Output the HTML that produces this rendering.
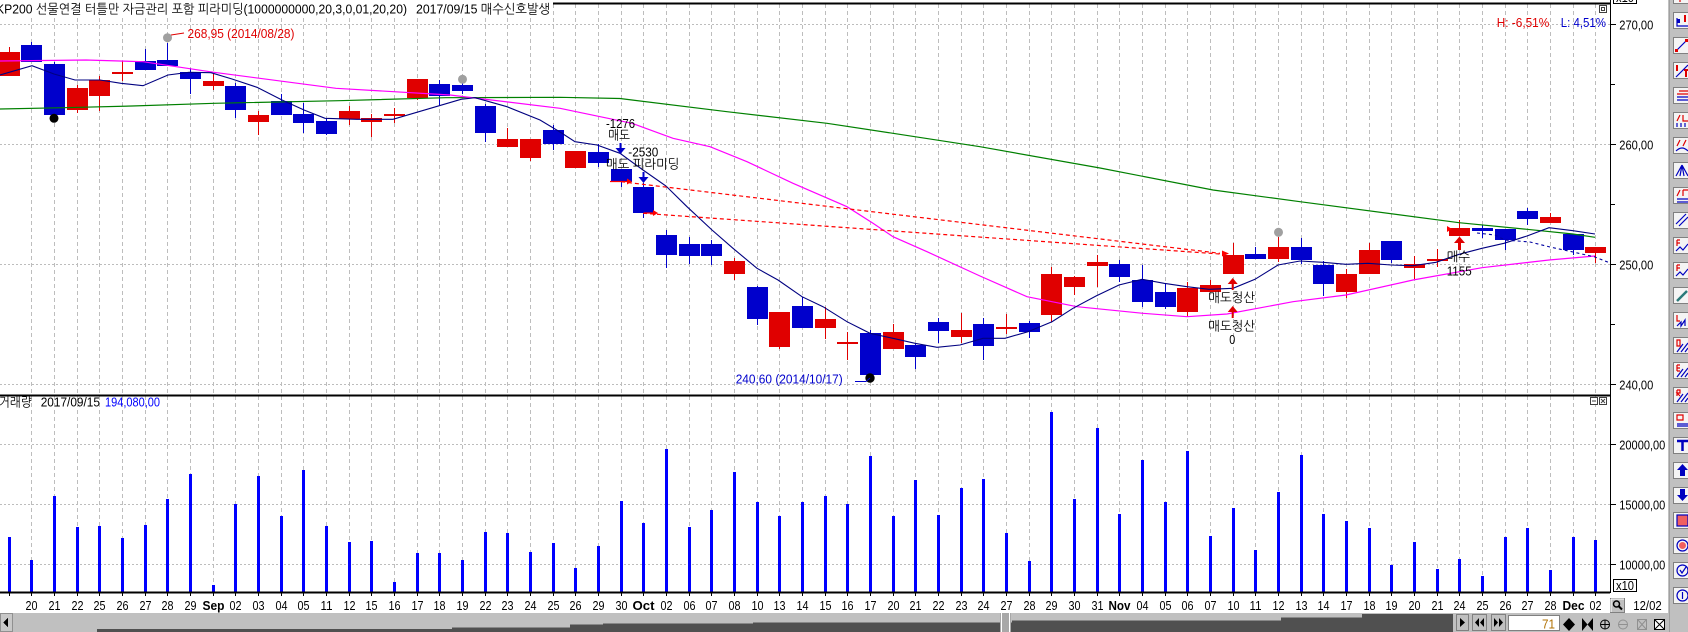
<!DOCTYPE html>
<html><head><meta charset="utf-8"><style>
html,body{margin:0;padding:0;background:#fff;width:1688px;height:632px;overflow:hidden}
svg{display:block}
text{font-family:"Liberation Sans","NanumGothic","Noto Sans CJK KR",sans-serif;font-size:13px}
.d{font-size:13px}
.m{font-size:13px;font-weight:bold}
</style></head><body>
<svg width="1688" height="632" viewBox="0 0 1688 632" xmlns="http://www.w3.org/2000/svg">
<rect x="0" y="0" width="1688" height="632" fill="#fff"/>
<!-- grid -->
<g shape-rendering="crispEdges" fill="none">
<path stroke="#bdbdbd" stroke-dasharray="4 3" d="M31.5 4V592 M54.5 4V592 M77.5 4V592 M99.5 4V592 M122.5 4V592 M145.5 4V592 M167.5 4V592 M190.5 4V592 M213.5 4V592 M235.5 4V592 M258.5 4V592 M281.5 4V592 M303.5 4V592 M326.5 4V592 M349.5 4V592 M371.5 4V592 M394.5 4V592 M417.5 4V592 M439.5 4V592 M462.5 4V592 M485.5 4V592 M507.5 4V592 M530.5 4V592 M553.5 4V592 M575.5 4V592 M598.5 4V592 M621.5 4V592 M643.5 4V592 M666.5 4V592 M689.5 4V592 M711.5 4V592 M734.5 4V592 M757.5 4V592 M779.5 4V592 M802.5 4V592 M825.5 4V592 M847.5 4V592 M870.5 4V592 M893.5 4V592 M915.5 4V592 M938.5 4V592 M961.5 4V592 M983.5 4V592 M1006.5 4V592 M1029.5 4V592 M1051.5 4V592 M1074.5 4V592 M1097.5 4V592 M1119.5 4V592 M1142.5 4V592 M1165.5 4V592 M1187.5 4V592 M1210.5 4V592 M1233.5 4V592 M1255.5 4V592 M1278.5 4V592 M1301.5 4V592 M1323.5 4V592 M1346.5 4V592 M1369.5 4V592 M1391.5 4V592 M1414.5 4V592 M1437.5 4V592 M1459.5 4V592 M1482.5 4V592 M1505.5 4V592 M1527.5 4V592 M1550.5 4V592 M1573.5 4V592 M1595.5 4V592"/>
<path stroke="#bdbdbd" stroke-dasharray="2 2" d="M0 24.5H1610 M0 144.5H1610 M0 264.5H1610 M0 384.5H1610 M0 444.5H1610 M0 504.5H1610 M0 564.5H1610"/>
</g>
<!-- title bg -->
<rect x="0" y="0" width="553" height="17" fill="#fff"/>
<!-- volume bars -->
<path fill="none" stroke="#0000ff" stroke-width="3" shape-rendering="crispEdges" d="M9.5 537V592 M31.5 560V592 M54.5 496V592 M77.5 527V592 M99.5 526V592 M122.5 538V592 M145.5 525V592 M167.5 499V592 M190.5 474V592 M213.5 585V592 M235.5 504V592 M258.5 476V592 M281.5 516V592 M303.5 470V592 M326.5 526V592 M349.5 542V592 M371.5 541V592 M394.5 582V592 M417.5 553V592 M439.5 553V592 M462.5 560V592 M485.5 532V592 M507.5 533V592 M530.5 552V592 M553.5 543V592 M575.5 568V592 M598.5 546V592 M621.5 501V592 M643.5 523V592 M666.5 449V592 M689.5 527V592 M711.5 510V592 M734.5 472V592 M757.5 502V592 M779.5 516V592 M802.5 502V592 M825.5 496V592 M847.5 504V592 M870.5 456V592 M893.5 516V592 M915.5 480V592 M938.5 515V592 M961.5 488V592 M983.5 479V592 M1006.5 533V592 M1029.5 561V592 M1051.5 412V592 M1074.5 499V592 M1097.5 428V592 M1119.5 514V592 M1142.5 460V592 M1165.5 502V592 M1187.5 451V592 M1210.5 536V592 M1233.5 508V592 M1255.5 550V592 M1278.5 492V592 M1301.5 455V592 M1323.5 514V592 M1346.5 521V592 M1369.5 528V592 M1391.5 565V592 M1414.5 542V592 M1437.5 569V592 M1459.5 559V592 M1482.5 576V592 M1505.5 537V592 M1527.5 528V592 M1550.5 570V592 M1573.5 537V592 M1595.5 540V592"/>
<!-- candles -->
<g shape-rendering="crispEdges">
<path fill="none" stroke="#e00000" d="M9.5 47V76 M77.5 85V113 M99.5 76V111 M122.5 61V81 M213.5 74V90 M258.5 111V135 M349.5 106V125 M371.5 114V137 M394.5 108V123 M417.5 79V100 M507.5 128V147 M530.5 139V161 M575.5 151V168 M734.5 258V280 M779.5 312V349 M825.5 307V339 M847.5 332V360 M893.5 324V349 M961.5 313V343 M1006.5 314V334 M1051.5 267V322 M1074.5 276V295 M1097.5 255V287 M1187.5 282V317 M1210.5 280V292 M1233.5 243V274 M1278.5 237V262 M1346.5 269V298 M1369.5 243V274 M1414.5 256V279 M1437.5 249V267 M1459.5 220V236 M1550.5 213V223 M1595.5 247V263"/>
<g fill="#e00000">
<rect x="-1" y="52" width="21" height="24"/><rect x="67" y="88" width="21" height="22"/><rect x="89" y="80" width="21" height="16"/><rect x="112" y="72" width="21" height="2"/><rect x="203" y="81" width="21" height="5"/><rect x="248" y="115" width="21" height="7"/><rect x="339" y="111" width="21" height="8"/><rect x="361" y="118" width="21" height="4"/><rect x="384" y="114" width="21" height="2"/><rect x="407" y="79" width="21" height="19"/><rect x="497" y="139" width="21" height="8"/><rect x="520" y="139" width="21" height="19"/><rect x="565" y="151" width="21" height="17"/><rect x="724" y="261" width="21" height="13"/><rect x="769" y="312" width="21" height="35"/><rect x="815" y="319" width="21" height="9"/><rect x="837" y="342" width="21" height="2"/><rect x="883" y="332" width="21" height="17"/><rect x="951" y="330" width="21" height="7"/><rect x="996" y="327" width="21" height="2"/><rect x="1041" y="274" width="21" height="41"/><rect x="1064" y="277" width="21" height="10"/><rect x="1087" y="262" width="21" height="4"/><rect x="1177" y="288" width="21" height="24"/><rect x="1200" y="285" width="21" height="7"/><rect x="1223" y="255" width="21" height="19"/><rect x="1268" y="247" width="21" height="12"/><rect x="1336" y="274" width="21" height="18"/><rect x="1359" y="250" width="21" height="24"/><rect x="1404" y="264" width="21" height="4"/><rect x="1427" y="259" width="21" height="2"/><rect x="1449" y="228" width="21" height="8"/><rect x="1540" y="217" width="21" height="6"/><rect x="1585" y="247" width="21" height="6"/>
</g>
<path fill="none" stroke="#0000cc" d="M31.5 42V62 M54.5 62V116 M145.5 49V70 M167.5 43V66 M190.5 68V94 M235.5 83V118 M281.5 94V115 M303.5 103V133 M326.5 118V135 M439.5 80V105 M462.5 83V94 M485.5 104V142 M553.5 125V150 M598.5 144V167 M621.5 169V187 M643.5 183V218 M666.5 230V268 M689.5 237V264 M711.5 240V265 M757.5 286V325 M802.5 297V328 M870.5 330V376 M915.5 343V369 M938.5 318V343 M983.5 318V360 M1029.5 321V338 M1119.5 260V282 M1142.5 265V307 M1165.5 284V309 M1255.5 247V259 M1301.5 238V264 M1323.5 261V296 M1391.5 241V263 M1482.5 225V238 M1505.5 229V250 M1527.5 208V225 M1573.5 234V255"/>
<g fill="#0000cc">
<rect x="21" y="45" width="21" height="17"/><rect x="44" y="64" width="21" height="51"/><rect x="135" y="61" width="21" height="9"/><rect x="157" y="60" width="21" height="6"/><rect x="180" y="72" width="21" height="7"/><rect x="225" y="86" width="21" height="24"/><rect x="271" y="101" width="21" height="14"/><rect x="293" y="114" width="21" height="9"/><rect x="316" y="121" width="21" height="13"/><rect x="429" y="84" width="21" height="12"/><rect x="452" y="85" width="21" height="6"/><rect x="475" y="106" width="21" height="27"/><rect x="543" y="130" width="21" height="14"/><rect x="588" y="152" width="21" height="11"/><rect x="611" y="169" width="21" height="13"/><rect x="633" y="187" width="21" height="26"/><rect x="656" y="235" width="21" height="20"/><rect x="679" y="244" width="21" height="12"/><rect x="701" y="244" width="21" height="12"/><rect x="747" y="287" width="21" height="32"/><rect x="792" y="306" width="21" height="22"/><rect x="860" y="333" width="21" height="42"/><rect x="905" y="345" width="21" height="12"/><rect x="928" y="322" width="21" height="9"/><rect x="973" y="324" width="21" height="22"/><rect x="1019" y="323" width="21" height="9"/><rect x="1109" y="264" width="21" height="13"/><rect x="1132" y="280" width="21" height="22"/><rect x="1155" y="292" width="21" height="15"/><rect x="1245" y="254" width="21" height="5"/><rect x="1291" y="247" width="21" height="13"/><rect x="1313" y="265" width="21" height="19"/><rect x="1381" y="241" width="21" height="19"/><rect x="1472" y="228" width="21" height="3"/><rect x="1495" y="229" width="21" height="11"/><rect x="1517" y="211" width="21" height="8"/><rect x="1563" y="234" width="21" height="16"/>
</g>
</g>
<!-- moving averages -->
<polyline fill="none" stroke="#008000" stroke-width="1.2" points="0,109 64,107.7 132,106 214,103.3 339,100.7 446,97.7 560,97.3 620,98.5 632,100 727,111.7 827,123.3 893,133.3 980,146.7 1100,168 1213,190 1300,201.7 1459,222.7 1527,229.3 1573,234 1595,237.3"/>
<polyline fill="none" stroke="#ff00ff" stroke-width="1.2" points="0,61 86,60 143,61.7 214,72.3 336,88.3 450,95 560,108.3 632,123.3 673,138.3 710,146.7 747,161.7 793,183.3 847,206.7 873,223.3 893,236.7 927,251.7 980,276 1027,296.7 1077,306.7 1143,313.3 1187,316.7 1227,314 1293,301.7 1346,295 1413,280 1482,267.7 1549,260 1595,256"/>
<polyline fill="none" stroke="#000080" stroke-width="1.1" points="0,75 32,65.7 54,74 75,80 100,80 121,83.3 143,85.7 168,75 189,72.3 211,72.7 232,79 257,87.3 282,100 304,110 325,118.3 357,119.3 393,119.3 461,99.3 475,97.7 507,106.7 540,120 560,132 575,141.7 597,145 620,153.3 643,170 666,186 687,206.7 712,230 733,248.3 757,268.3 778,280 802,296.7 823,306.7 847,321.7 870,333.3 893,338.3 915,343.3 937,347.3 960,345 983,338.3 1005,338.3 1028,331.7 1052,321.7 1073,308.3 1096,296 1119,285 1142,279.3 1164,283.3 1187,286.7 1209,289.3 1233,288.3 1255,279.3 1278,265 1300,261 1323,262.3 1346,264.3 1368,263.3 1391,265 1413,265.7 1436,262.3 1459,254.3 1482,248.3 1504,243.3 1527,236 1549,227.7 1573,230.7 1595,234"/>
<!-- stop lines -->
<path fill="none" stroke="#ff0000" stroke-width="1.2" stroke-dasharray="4 3" d="M621 181.7L1220 253.3 M643 213.3L1220 254"/>
<path fill="none" stroke="#ff0000" stroke-width="1.2" d="M610 181.5H628 M644 213H654"/>
<path fill="#ff0000" d="M627 178.5L632 181.5L627 184.5Z M653 210L658 213L653 216Z M1222 250.5L1229 253.5L1222 256.5Z M1447 226L1452 229L1447 232Z"/>
<path fill="none" stroke="#0000a0" stroke-width="1.1" stroke-dasharray="3 3" d="M1477 233L1495 235L1505 240L1530 242L1550 247L1573 252L1595 257L1610 263"/>
<!-- dots -->
<circle cx="167.5" cy="37.7" r="4.5" fill="#a0a0a0"/>
<circle cx="462.5" cy="79.3" r="4.5" fill="#a0a0a0"/>
<circle cx="1278.5" cy="232.3" r="4.5" fill="#a0a0a0"/>
<circle cx="54" cy="118.3" r="4.5" fill="#000"/>
<circle cx="870" cy="378" r="4.7" fill="#000"/>
<path fill="none" stroke="#e00000" d="M171 35L184 33"/>
<path fill="none" stroke="#0000cc" d="M855 381.5H866L870 378"/>
<!-- arrows -->
<g fill="#0000cc">
<rect x="619.5" y="143" width="2" height="6"/><path d="M615.5 148H625.5L620.5 154Z"/>
<rect x="642.5" y="172" width="2" height="6"/><path d="M638.5 177H648.5L643.5 183Z"/>
</g>
<g fill="#e00000">
<path d="M1227.7 284H1237.7L1232.7 278Z"/><rect x="1231.7" y="284" width="2" height="6"/>
<path d="M1227.7 312H1237.7L1232.7 306Z"/><rect x="1231.7" y="312" width="2" height="6"/>
<path d="M1454 243H1465L1459.5 236.5Z"/><rect x="1458" y="243" width="3" height="7"/>
</g>
<!-- panel borders / axes -->
<g fill="none" stroke="#000" shape-rendering="crispEdges">
<path stroke-width="1.6" d="M553 3.5H1610 M0 395.5H1610 M0 592.5H1610"/>
<path stroke-width="1.3" d="M1610.5 0V593"/>
<path d="M1610 24.5H1616 M1610 84.5H1615 M1610 144.5H1616 M1610 204.5H1615 M1610 264.5H1616 M1610 324.5H1615 M1610 384.5H1616 M1610 444.5H1616 M1610 504.5H1616 M1610 564.5H1616"/>
<path d="M9.5 592V596 M31.5 592V596 M54.5 592V596 M77.5 592V596 M99.5 592V596 M122.5 592V596 M145.5 592V596 M167.5 592V596 M190.5 592V596 M213.5 592V596 M235.5 592V596 M258.5 592V596 M281.5 592V596 M303.5 592V596 M326.5 592V596 M349.5 592V596 M371.5 592V596 M394.5 592V596 M417.5 592V596 M439.5 592V596 M462.5 592V596 M485.5 592V596 M507.5 592V596 M530.5 592V596 M553.5 592V596 M575.5 592V596 M598.5 592V596 M621.5 592V596 M643.5 592V596 M666.5 592V596 M689.5 592V596 M711.5 592V596 M734.5 592V596 M757.5 592V596 M779.5 592V596 M802.5 592V596 M825.5 592V596 M847.5 592V596 M870.5 592V596 M893.5 592V596 M915.5 592V596 M938.5 592V596 M961.5 592V596 M983.5 592V596 M1006.5 592V596 M1029.5 592V596 M1051.5 592V596 M1074.5 592V596 M1097.5 592V596 M1119.5 592V596 M1142.5 592V596 M1165.5 592V596 M1187.5 592V596 M1210.5 592V596 M1233.5 592V596 M1255.5 592V596 M1278.5 592V596 M1301.5 592V596 M1323.5 592V596 M1346.5 592V596 M1369.5 592V596 M1391.5 592V596 M1414.5 592V596 M1437.5 592V596 M1459.5 592V596 M1482.5 592V596 M1505.5 592V596 M1527.5 592V596 M1550.5 592V596 M1573.5 592V596 M1595.5 592V596"/>
</g>
<!-- small boxes -->
<g fill="#fff" stroke="#404040" shape-rendering="crispEdges">
<rect x="1599.5" y="5.5" width="7" height="7"/><rect x="1601.5" y="7.5" width="3" height="3" fill="none"/>
<rect x="1590.5" y="397.5" width="7" height="7"/><rect x="1599.5" y="397.5" width="7" height="7"/>
<rect x="1613.5" y="-10.5" width="23" height="14" stroke="#000"/>
<rect x="1613.5" y="579.5" width="23" height="12" stroke="#000"/>
</g>
<path stroke="#404040" fill="none" d="M1592 401H1596 M1601 399L1605 403M1605 399L1601 403"/>
<text x="1616" y="2" textLength="18" lengthAdjust="spacingAndGlyphs">x10</text>
<text x="1616" y="590" textLength="18" lengthAdjust="spacingAndGlyphs">x10</text>
<!-- titles -->
<text x="-4" y="13.5" textLength="411" lengthAdjust="spacingAndGlyphs">KP200 선물연결 터틀만 자금관리 포함 피라미딩(1000000000,20,3,0,01,20,20)</text>
<text x="416" y="13.5" textLength="134" lengthAdjust="spacingAndGlyphs">2017/09/15 매수신호발생</text>
<text x="-1" y="406.5" textLength="32.7" lengthAdjust="spacingAndGlyphs">거래량</text>
<text x="40.7" y="406.5" textLength="59.3" lengthAdjust="spacingAndGlyphs">2017/09/15</text>
<text x="105" y="406.5" textLength="55" lengthAdjust="spacingAndGlyphs" fill="#0000ff">194,080,00</text>
<text x="187.5" y="38" textLength="107" lengthAdjust="spacingAndGlyphs" fill="#e00000">268,95 (2014/08/28)</text>
<text x="735.7" y="383.5" textLength="107" lengthAdjust="spacingAndGlyphs" fill="#0000cc">240,60 (2014/10/17)</text>
<text x="1496.7" y="27" textLength="52.6" lengthAdjust="spacingAndGlyphs" fill="#e00000">H: -6,51%</text>
<text x="1560.7" y="27" textLength="45.3" lengthAdjust="spacingAndGlyphs" fill="#0000cc">L: 4,51%</text>
<!-- annotations -->
<text x="606" y="128" textLength="29" lengthAdjust="spacingAndGlyphs">-1276</text>
<text x="608.3" y="139.5" textLength="21.7" lengthAdjust="spacingAndGlyphs">매도</text>
<text x="628.3" y="156.5" textLength="30" lengthAdjust="spacingAndGlyphs">-2530</text>
<text x="606" y="168.5" textLength="73.3" lengthAdjust="spacingAndGlyphs">매도 피라미딩</text>
<text x="1208.3" y="302" textLength="46.7" lengthAdjust="spacingAndGlyphs">매도청산</text>
<text x="1208.3" y="330.5" textLength="46.7" lengthAdjust="spacingAndGlyphs">매도청산</text>
<text x="1229.3" y="344" textLength="6" lengthAdjust="spacingAndGlyphs">0</text>
<text x="1446.7" y="261" textLength="23.3" lengthAdjust="spacingAndGlyphs">매수</text>
<text x="1446.7" y="275.5" textLength="25" lengthAdjust="spacingAndGlyphs">1155</text>
<!-- axis labels -->
<g font-size="13.5">
<text x="1619.3" y="29.3" textLength="34" lengthAdjust="spacingAndGlyphs">270,00</text>
<text x="1619.3" y="149.5" textLength="34" lengthAdjust="spacingAndGlyphs">260,00</text>
<text x="1619.3" y="269.3" textLength="34" lengthAdjust="spacingAndGlyphs">250,00</text>
<text x="1619.3" y="389.5" textLength="34" lengthAdjust="spacingAndGlyphs">240,00</text>
<text x="1619.3" y="449.3" textLength="46" lengthAdjust="spacingAndGlyphs">20000,00</text>
<text x="1619.3" y="509.3" textLength="46" lengthAdjust="spacingAndGlyphs">15000,00</text>
<text x="1619.3" y="569.3" textLength="46" lengthAdjust="spacingAndGlyphs">10000,00</text>
</g>
<!-- date labels -->
<g class="d">
<text x="25.5" y="610" textLength="12" lengthAdjust="spacingAndGlyphs">20</text>
<text x="48.5" y="610" textLength="12" lengthAdjust="spacingAndGlyphs">21</text>
<text x="71.5" y="610" textLength="12" lengthAdjust="spacingAndGlyphs">22</text>
<text x="93.5" y="610" textLength="12" lengthAdjust="spacingAndGlyphs">25</text>
<text x="116.5" y="610" textLength="12" lengthAdjust="spacingAndGlyphs">26</text>
<text x="139.5" y="610" textLength="12" lengthAdjust="spacingAndGlyphs">27</text>
<text x="161.5" y="610" textLength="12" lengthAdjust="spacingAndGlyphs">28</text>
<text x="184.5" y="610" textLength="12" lengthAdjust="spacingAndGlyphs">29</text>
<text x="202.5" y="610" textLength="22" lengthAdjust="spacingAndGlyphs" font-weight="bold">Sep</text>
<text x="229.5" y="610" textLength="12" lengthAdjust="spacingAndGlyphs">02</text>
<text x="252.5" y="610" textLength="12" lengthAdjust="spacingAndGlyphs">03</text>
<text x="275.5" y="610" textLength="12" lengthAdjust="spacingAndGlyphs">04</text>
<text x="297.5" y="610" textLength="12" lengthAdjust="spacingAndGlyphs">05</text>
<text x="320.5" y="610" textLength="12" lengthAdjust="spacingAndGlyphs">11</text>
<text x="343.5" y="610" textLength="12" lengthAdjust="spacingAndGlyphs">12</text>
<text x="365.5" y="610" textLength="12" lengthAdjust="spacingAndGlyphs">15</text>
<text x="388.5" y="610" textLength="12" lengthAdjust="spacingAndGlyphs">16</text>
<text x="411.5" y="610" textLength="12" lengthAdjust="spacingAndGlyphs">17</text>
<text x="433.5" y="610" textLength="12" lengthAdjust="spacingAndGlyphs">18</text>
<text x="456.5" y="610" textLength="12" lengthAdjust="spacingAndGlyphs">19</text>
<text x="479.5" y="610" textLength="12" lengthAdjust="spacingAndGlyphs">22</text>
<text x="501.5" y="610" textLength="12" lengthAdjust="spacingAndGlyphs">23</text>
<text x="524.5" y="610" textLength="12" lengthAdjust="spacingAndGlyphs">24</text>
<text x="547.5" y="610" textLength="12" lengthAdjust="spacingAndGlyphs">25</text>
<text x="569.5" y="610" textLength="12" lengthAdjust="spacingAndGlyphs">26</text>
<text x="592.5" y="610" textLength="12" lengthAdjust="spacingAndGlyphs">29</text>
<text x="615.5" y="610" textLength="12" lengthAdjust="spacingAndGlyphs">30</text>
<text x="632.5" y="610" textLength="22" lengthAdjust="spacingAndGlyphs" font-weight="bold">Oct</text>
<text x="660.5" y="610" textLength="12" lengthAdjust="spacingAndGlyphs">02</text>
<text x="683.5" y="610" textLength="12" lengthAdjust="spacingAndGlyphs">06</text>
<text x="705.5" y="610" textLength="12" lengthAdjust="spacingAndGlyphs">07</text>
<text x="728.5" y="610" textLength="12" lengthAdjust="spacingAndGlyphs">08</text>
<text x="751.5" y="610" textLength="12" lengthAdjust="spacingAndGlyphs">10</text>
<text x="773.5" y="610" textLength="12" lengthAdjust="spacingAndGlyphs">13</text>
<text x="796.5" y="610" textLength="12" lengthAdjust="spacingAndGlyphs">14</text>
<text x="819.5" y="610" textLength="12" lengthAdjust="spacingAndGlyphs">15</text>
<text x="841.5" y="610" textLength="12" lengthAdjust="spacingAndGlyphs">16</text>
<text x="864.5" y="610" textLength="12" lengthAdjust="spacingAndGlyphs">17</text>
<text x="887.5" y="610" textLength="12" lengthAdjust="spacingAndGlyphs">20</text>
<text x="909.5" y="610" textLength="12" lengthAdjust="spacingAndGlyphs">21</text>
<text x="932.5" y="610" textLength="12" lengthAdjust="spacingAndGlyphs">22</text>
<text x="955.5" y="610" textLength="12" lengthAdjust="spacingAndGlyphs">23</text>
<text x="977.5" y="610" textLength="12" lengthAdjust="spacingAndGlyphs">24</text>
<text x="1000.5" y="610" textLength="12" lengthAdjust="spacingAndGlyphs">27</text>
<text x="1023.5" y="610" textLength="12" lengthAdjust="spacingAndGlyphs">28</text>
<text x="1045.5" y="610" textLength="12" lengthAdjust="spacingAndGlyphs">29</text>
<text x="1068.5" y="610" textLength="12" lengthAdjust="spacingAndGlyphs">30</text>
<text x="1091.5" y="610" textLength="12" lengthAdjust="spacingAndGlyphs">31</text>
<text x="1108.5" y="610" textLength="22" lengthAdjust="spacingAndGlyphs" font-weight="bold">Nov</text>
<text x="1136.5" y="610" textLength="12" lengthAdjust="spacingAndGlyphs">04</text>
<text x="1159.5" y="610" textLength="12" lengthAdjust="spacingAndGlyphs">05</text>
<text x="1181.5" y="610" textLength="12" lengthAdjust="spacingAndGlyphs">06</text>
<text x="1204.5" y="610" textLength="12" lengthAdjust="spacingAndGlyphs">07</text>
<text x="1227.5" y="610" textLength="12" lengthAdjust="spacingAndGlyphs">10</text>
<text x="1249.5" y="610" textLength="12" lengthAdjust="spacingAndGlyphs">11</text>
<text x="1272.5" y="610" textLength="12" lengthAdjust="spacingAndGlyphs">12</text>
<text x="1295.5" y="610" textLength="12" lengthAdjust="spacingAndGlyphs">13</text>
<text x="1317.5" y="610" textLength="12" lengthAdjust="spacingAndGlyphs">14</text>
<text x="1340.5" y="610" textLength="12" lengthAdjust="spacingAndGlyphs">17</text>
<text x="1363.5" y="610" textLength="12" lengthAdjust="spacingAndGlyphs">18</text>
<text x="1385.5" y="610" textLength="12" lengthAdjust="spacingAndGlyphs">19</text>
<text x="1408.5" y="610" textLength="12" lengthAdjust="spacingAndGlyphs">20</text>
<text x="1431.5" y="610" textLength="12" lengthAdjust="spacingAndGlyphs">21</text>
<text x="1453.5" y="610" textLength="12" lengthAdjust="spacingAndGlyphs">24</text>
<text x="1476.5" y="610" textLength="12" lengthAdjust="spacingAndGlyphs">25</text>
<text x="1499.5" y="610" textLength="12" lengthAdjust="spacingAndGlyphs">26</text>
<text x="1521.5" y="610" textLength="12" lengthAdjust="spacingAndGlyphs">27</text>
<text x="1544.5" y="610" textLength="12" lengthAdjust="spacingAndGlyphs">28</text>
<text x="1562.5" y="610" textLength="22" lengthAdjust="spacingAndGlyphs" font-weight="bold">Dec</text>
<text x="1589.5" y="610" textLength="12" lengthAdjust="spacingAndGlyphs">02</text>
<text x="1633.3" y="610" textLength="28.4" lengthAdjust="spacingAndGlyphs">12/02</text>
</g>
<!-- magnifier button -->
<g shape-rendering="crispEdges">
<rect x="1610.5" y="598.5" width="14" height="14" fill="#c0c0c0" stroke="#808080"/>
<path d="M1611 599H1624M1611 599V612" stroke="#fff" fill="none"/>
</g>
<circle cx="1616.5" cy="604" r="3" fill="none" stroke="#000" stroke-width="1.5"/>
<path d="M1618.5 606L1622 609.5" stroke="#000" stroke-width="2"/>
<!-- bottom scrollbar -->
<g shape-rendering="crispEdges">
<rect x="0" y="613" width="1668" height="19" fill="#c0c0c0"/>
<rect x="0.5" y="613.5" width="12" height="18" fill="#c8c8c8" stroke="#909090"/>
<path d="M3 622.5L8 618V627Z" fill="#000"/>
<path fill="#505050" d="M97 632V629H452V627.7H570V624.3H603V623.3H753V622.3H1012V620.7H1281V617.3H1362V614H1453V632Z"/>
<rect x="1000" y="613" width="11" height="19" fill="#a8a8a8"/>
<path d="M1001.5 613V632 M1009.5 613V632" stroke="#fff"/>
<rect x="1456.5" y="614.5" width="12" height="16" fill="#c0c0c0" stroke="#808080"/>
<rect x="1472.5" y="614.5" width="14" height="16" fill="#c0c0c0" stroke="#808080"/>
<rect x="1491.5" y="614.5" width="14" height="16" fill="#c0c0c0" stroke="#808080"/>
<rect x="1508.5" y="615.5" width="51" height="15" fill="#fff" stroke="#808080"/>
</g>
<path fill="#000" d="M1460 618L1465 622.5L1460 627Z M1479 618L1475 622.5L1479 627Z M1484 618L1480 622.5L1484 627Z M1494 618L1498 622.5L1494 627Z M1499 618L1503 622.5L1499 627Z"/>
<text x="1542" y="628.5" textLength="13" lengthAdjust="spacingAndGlyphs" fill="#b07000">71</text>
<path fill="#000" d="M1563 624.5L1569 618V631Z M1569 618L1575 624.5L1569 631Z M1582 618L1587.5 624.5L1582 631Z M1593 618L1587.5 624.5L1593 631Z"/>
<circle cx="1605" cy="624.5" r="4.5" fill="none" stroke="#000"/>
<path d="M1600.5 624.5H1609.5M1605 620V629" stroke="#000"/>
<circle cx="1623" cy="624.5" r="4.5" fill="none" stroke="#909090"/>
<path d="M1619 624.5H1627" stroke="#909090"/>
<rect x="1637.5" y="619.5" width="9" height="10" fill="none" stroke="#909090"/>
<path d="M1638 620L1646 629M1646 620L1638 629" stroke="#909090"/>
<rect x="1654.5" y="619.5" width="10" height="10" fill="#fff" stroke="#000"/>
<path d="M1655 620L1664 629M1664 620L1655 629" stroke="#000"/>
<!-- right toolbar -->
<rect x="1668" y="0" width="20" height="632" fill="#c0c0c0"/>
<path d="M1669.5 0V632" stroke="#a0a0a0"/>
<g shape-rendering="crispEdges" fill="#f4f4f4" stroke="#808080">
<rect x="1673.5" y="-12.5" width="16" height="16"/>
<rect x="1673.5" y="12.5" width="16" height="16"/>
<rect x="1673.5" y="37.5" width="16" height="16"/>
<rect x="1673.5" y="62.5" width="16" height="16"/>
<rect x="1673.5" y="87.5" width="16" height="16"/>
<rect x="1673.5" y="112.5" width="16" height="16"/>
<rect x="1673.5" y="137.5" width="16" height="16"/>
<rect x="1673.5" y="162.5" width="16" height="16"/>
<rect x="1673.5" y="187.5" width="16" height="16"/>
<rect x="1673.5" y="212.5" width="16" height="16"/>
<rect x="1673.5" y="237.5" width="16" height="16"/>
<rect x="1673.5" y="262.5" width="16" height="16"/>
<rect x="1673.5" y="287.5" width="16" height="16"/>
<rect x="1673.5" y="312.5" width="16" height="16"/>
<rect x="1673.5" y="337.5" width="16" height="16"/>
<rect x="1673.5" y="362.5" width="16" height="16"/>
<rect x="1673.5" y="387.5" width="16" height="16"/>
<rect x="1673.5" y="412.5" width="16" height="16"/>
<rect x="1673.5" y="437.5" width="16" height="16"/>
<rect x="1673.5" y="462.5" width="16" height="16"/>
<rect x="1673.5" y="487.5" width="16" height="16"/>
<rect x="1673.5" y="512.5" width="16" height="16"/>
<rect x="1673.5" y="537.5" width="16" height="16"/>
<rect x="1673.5" y="562.5" width="16" height="16"/>
<rect x="1673.5" y="587.5" width="16" height="16"/>
</g>
<g fill="none" stroke-width="1.2">
<path stroke="#e00000" d="M1680 -3V2"/>
<path stroke="#0000c0" d="M1677 18V26H1688"/><rect x="1677" y="19" width="3" height="4" fill="#0000c0" stroke="none"/><path stroke="#e00000" stroke-width="2" d="M1685 15V22"/>
<path stroke="#0000c0" d="M1676 51L1687 40"/><rect x="1675" y="49" width="3" height="3" fill="#e00000" stroke="none"/><rect x="1685" y="39" width="3" height="3" fill="#e00000" stroke="none"/>
<path stroke="#e00000" stroke-width="2" d="M1677 65V71M1684 70H1688M1686 70V77"/><path stroke="#0000c0" d="M1676 77L1688 65"/>
<path stroke="#e00000" d="M1679 91H1688M1677 94H1688"/><path stroke="#0000c0" d="M1677 97H1688M1677 100H1688"/>
<path stroke="#e00000" d="M1677 121L1680 115M1683 115V121H1688"/><path stroke="#0000c0" d="M1677 123V127M1681 123V127M1685 123V127"/>
<path stroke="#e00000" d="M1677 146L1680 140M1683 146L1686 140"/><path stroke="#0000c0" d="M1676 151Q1682 145 1688 151"/>
<path stroke="#0000c0" d="M1682 165L1676 176M1682 165L1680 176M1682 165L1684 176M1682 165L1688 176"/>
<path stroke="#e00000" d="M1677 196L1680 190M1683 190V196M1683 190H1688"/><path stroke="#0000c0" d="M1677 199H1688M1677 202H1688"/>
<path stroke="#0000c0" d="M1676 224L1686 214M1679 226L1688 217"/>
<path stroke="#e00000" d="M1677 240V246M1677 240H1680M1677 243H1680"/><path stroke="#0000c0" d="M1676 251L1680 247L1683 250L1688 244"/>
<path stroke="#e00000" d="M1677 265V271M1677 265H1680M1677 268H1680"/><path stroke="#0000c0" d="M1676 276L1680 272L1683 275L1688 269"/>
<path stroke="#2a7a7a" stroke-width="2.5" d="M1677 301L1687 291"/>
<path stroke="#e00000" d="M1677 315V321H1680"/><path stroke="#0000c0" d="M1677 326L1681 322V326L1685 320V326"/>
<path stroke="#e00000" d="M1677 340V346H1680V340Z"/><path stroke="#0000c0" d="M1677 352L1683 344M1681 352L1688 343M1685 352L1688 348"/>
<path stroke="#e00000" d="M1677 365V371M1677 365H1680M1677 368H1680M1677 371H1680"/><path stroke="#0000c0" d="M1677 377L1683 369M1681 377L1688 368M1685 377L1688 373"/>
<path stroke="#e00000" d="M1677 390V396M1677 390H1680V393H1677L1680 396"/><path stroke="#0000c0" d="M1677 402L1683 394M1681 402L1688 393M1685 402L1688 398"/>
<path stroke="#e00000" d="M1677 415H1683V420H1677Z"/><path stroke="#0000c0" d="M1677 424H1688M1677 426H1688"/>
<path stroke="#0000c0" stroke-width="2.5" d="M1677 441H1688M1682.5 441V451"/>
<path fill="#0000c0" stroke="none" d="M1682.5 464L1677 470H1680V476H1685V470H1688Z"/>
<path fill="#0000c0" stroke="none" d="M1682.5 501L1677 495H1680V489H1685V495H1688Z"/>
<rect x="1677" y="515" width="11" height="11" fill="#f06060" stroke="#0000c0"/>
<circle cx="1682.5" cy="545.5" r="5.5" stroke="#0000c0"/><circle cx="1682.5" cy="545.5" r="3.5" fill="#f06060" stroke="none"/>
<circle cx="1682.5" cy="570.5" r="5.5" stroke="#0000c0"/><path stroke="#0000c0" d="M1680 570L1682 573L1686 567"/>
<circle cx="1682.5" cy="595.5" r="5.5" stroke="#0000c0"/><path stroke="#0000c0" d="M1682.5 592V599"/>
</g>
</svg>
</body></html>
